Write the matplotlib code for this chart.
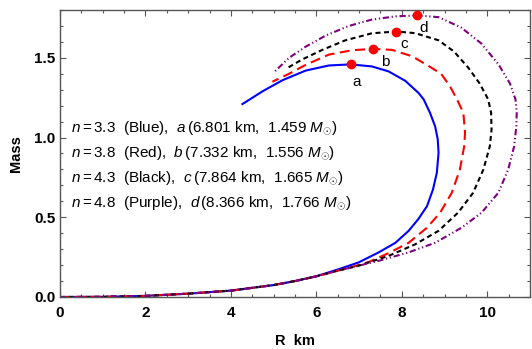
import matplotlib
matplotlib.use("Agg")
import matplotlib.pyplot as plt
import matplotlib.ticker as plticker

plt.rcParams['font.family'] = ['Liberation Sans', 'DejaVu Sans']
plt.rcParams['mathtext.fontset'] = 'custom'
plt.rcParams['mathtext.rm'] = 'Liberation Sans'
plt.rcParams['mathtext.it'] = 'Liberation Sans:italic'

# mass-radius curves (R in km, M in solar masses)
r_blue = [0, 1, 2, 3, 4, 5, 5.5, 6, 6.53, 6.99, 7.46, 7.85, 8.16, 8.39, 8.59, 8.73, 8.82, 8.86, 8.84, 8.78,
          8.66, 8.51, 8.39, 8.08, 7.69, 7.30, 6.801, 6.29, 5.75, 5.21, 4.74, 4.27]
m_blue = [0, 0.001, 0.007, 0.021, 0.04, 0.075, 0.1, 0.13, 0.175, 0.217, 0.28, 0.34, 0.415, 0.49, 0.57, 0.675,
          0.78, 0.905, 0.99, 1.07, 1.155, 1.24, 1.28, 1.356, 1.415, 1.446, 1.459, 1.452, 1.42, 1.36, 1.29, 1.21]

r_red = [0, 1, 2, 3, 4, 5, 5.5, 6, 6.5, 6.85, 7.23, 7.69, 8.16, 8.59, 8.90, 9.17, 9.36, 9.46, 9.48, 9.44,
         9.29, 9.13, 8.92, 8.62, 8.24, 7.77, 7.332, 6.84, 6.29, 5.75, 5.36, 4.97]
m_red = [0, 0.001, 0.007, 0.021, 0.04, 0.075, 0.1, 0.13, 0.165, 0.19, 0.22, 0.275, 0.34, 0.435, 0.53, 0.654,
         0.80, 0.946, 1.03, 1.155, 1.24, 1.32, 1.40, 1.45, 1.51, 1.55, 1.556, 1.548, 1.52, 1.456, 1.40, 1.35]

r_black = [0, 1, 2, 3, 4, 5, 5.5, 6, 6.5, 6.99, 7.69, 8.31, 8.86, 9.32, 9.67, 9.91, 10.06, 10.10, 10.09,
           10.02, 9.82, 9.55, 9.22, 8.86, 8.31, 7.864, 7.30, 6.68, 6.14, 5.67, 5.28]
m_black = [0, 0.001, 0.007, 0.021, 0.04, 0.075, 0.1, 0.13, 0.165, 0.196, 0.258, 0.33, 0.415, 0.53, 0.654,
           0.80, 0.946, 1.05, 1.155, 1.24, 1.34, 1.44, 1.54, 1.61, 1.655, 1.665, 1.654, 1.61, 1.55, 1.49, 1.43]

r_purple = [0, 1, 2, 3, 4, 5, 5.5, 6, 6.5, 7.0, 7.46, 8.16, 8.78, 9.40, 9.87, 10.26, 10.49, 10.63, 10.68,
            10.69, 10.66, 10.53, 10.26, 9.86, 9.39, 8.86, 8.366, 7.85, 7.30, 6.76, 6.22, 5.75, 5.36, 5.01]
m_purple = [0, 0.001, 0.007, 0.021, 0.04, 0.075, 0.1, 0.13, 0.165, 0.197, 0.227, 0.28, 0.34, 0.435, 0.53, 0.654,
            0.80, 0.946, 1.07, 1.16, 1.24, 1.34, 1.46, 1.59, 1.69, 1.755, 1.766, 1.76, 1.74, 1.70, 1.64, 1.57,
            1.50, 1.41]

# maximum-mass points
peak_names = ['a', 'b', 'c', 'd']
peak_r = [6.801, 7.332, 7.864, 8.366]
peak_m = [1.459, 1.556, 1.665, 1.766]
n_values = ['3.3', '3.8', '4.3', '4.8']
colour_names = ['Blue', 'Red', 'Black', 'Purple']

fig = plt.figure(figsize=(5.32, 3.49), dpi=100)
ax = fig.add_axes([60/532, 1-297/349, 470/532, 287/349])

ax.plot(r_blue, m_blue, color='#0000ff', lw=1.5, solid_joinstyle='round')
ax.plot(r_red, m_red, color='#ff0000', lw=1.5, linestyle=(0, (4.8, 2.6)))
ax.plot(r_black, m_black, color='black', lw=1.5, linestyle=(0, (2.4, 1.7)))
ax.plot(r_purple, m_purple, color='#800080', lw=1.5, linestyle=(0, (3.0, 1.3, 0.6, 1.3, 0.6, 1.3)))

ax.plot(peak_r, peak_m, 'o', color='#ff0000', markersize=6, zorder=5)
offsets = [(0.15, -0.11), (0.27, -0.08), (0.2, -0.08), (0.15, -0.08)]
for i in range(len(peak_names)):
	ax.text(peak_r[i]+offsets[i][0], peak_m[i]+offsets[i][1], peak_names[i], fontsize=11,
			ha='center', va='center')

for i in range(len(peak_names)):
	line = r'$n = %s$  (%s),  $%s\,$(%s km,  %s $M_{\odot}$)' % (
		n_values[i], colour_names[i], peak_names[i], f'{peak_r[i]:.3f}', f'{peak_m[i]:.3f}')
	ax.text(0.0234, 0.575-0.087*i, line, transform=ax.transAxes, fontsize=11, va='baseline')

ax.set_xlim(0, 11)
ax.set_ylim(0, 1.8)
ax.xaxis.set_major_locator(plticker.MultipleLocator(2))
ax.xaxis.set_minor_locator(plticker.MultipleLocator(0.5))
ax.yaxis.set_major_locator(plticker.MultipleLocator(0.5))
ax.yaxis.set_minor_locator(plticker.MultipleLocator(0.1))
ax.xaxis.set_major_formatter(plticker.FormatStrFormatter('%d'))
ax.yaxis.set_major_formatter(plticker.FormatStrFormatter('%.1f'))
ax.tick_params(which='both', direction='in', top=True, right=True, color='#555555', width=0.8)
ax.tick_params(which='major', length=4)
ax.tick_params(which='minor', length=2.5)
ax.tick_params(axis='x', pad=6.5, labelsize=11)
ax.tick_params(axis='y', pad=3.5, labelsize=11)
for lab in ax.get_xticklabels() + ax.get_yticklabels():
	lab.set_fontweight('bold')
for sp in ax.spines.values():
	sp.set_color('#555555')
	sp.set_linewidth(1.0)

ax.set_xlabel('R  km', fontsize=10.5, fontweight='bold')
ax.set_ylabel('Mass', fontsize=10.5, fontweight='bold')
ax.xaxis.set_label_coords(0.5, -0.13)
ax.yaxis.set_label_coords(-0.078, 0.5)

fig.savefig('out.png', dpi=100)
